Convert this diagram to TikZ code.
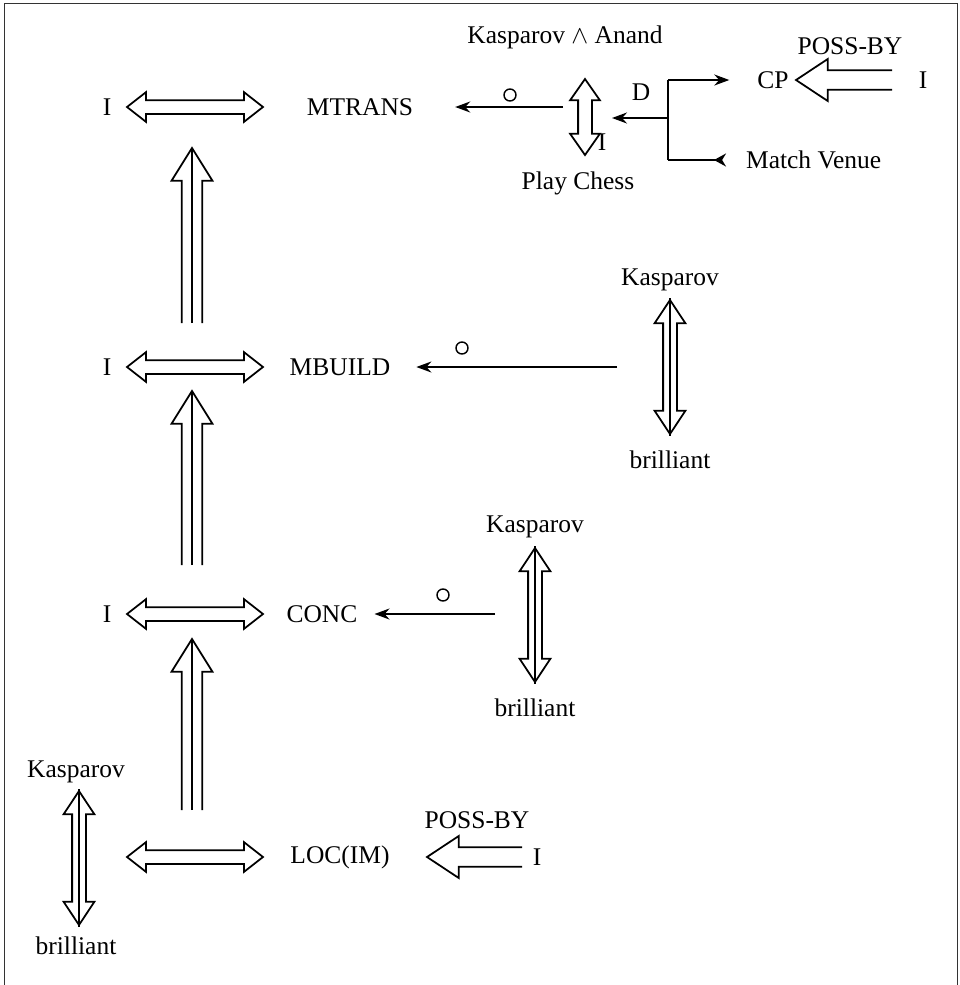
\documentclass[tikz,border=0pt]{standalone}
\usepackage{fontspec}
\setmainfont{Liberation Serif}
\usetikzlibrary{arrows.meta,shapes.arrows,calc}
\tikzset{
  lbl/.style={font=\fontsize{14.5}{17}\selectfont, inner sep=1pt},
  wide/.style={double arrow, draw, line width=1pt, inner sep=1.2mm,
    double arrow head extend=1.6mm, double arrow tip angle=76, minimum height=27.2mm},
  tall/.style={double arrow, draw, line width=1pt, inner sep=1.2mm,
    double arrow head extend=1.7mm, double arrow tip angle=67, shape border rotate=90,
    minimum height=26.8mm},
  lift/.style={single arrow, inner sep=1.9mm, single arrow head extend=2mm,
    single arrow tip angle=64, shape border rotate=90, anchor=tail},
  poss/.style={single arrow, inner sep=1.8mm, single arrow head extend=2.2mm,
    single arrow tip angle=67, shape border rotate=180, anchor=tail, minimum height=19mm},
  thin/.style={-{Stealth[length=3mm,width=2.2mm]}, line width=1pt},
  dot/.style={circle, draw, line width=0.8pt, inner sep=0pt, minimum size=2.4mm}
}
\newcommand\opentail[1]{%
  \draw[line width=1pt] (#1.after tail) -- (#1.before head) -- (#1.before tip) -- (#1.tip)
    -- (#1.after tip) -- (#1.after head) -- (#1.before tail);}

\begin{document}
\begin{tikzpicture}[x=0.2mm,y=-0.2mm]
\useasboundingbox (0,0) rectangle (960,985);
\draw[line width=1.1pt, draw=black!80] (4.5,985) -- (4.5,3.5) -- (957.5,3.5) -- (957.5,985);

% MTRANS row
\node[lbl] (i1) at (107,107) {I};
\node[lbl] (mtrans) at (360,107) {MTRANS};
\node[wide] (w1) at (195,107) {};
\node[lbl] (ka) at (565,37) {Kasparov $\wedge$ Anand};
\node[tall, minimum height=15.2mm, double arrow head extend=1.6mm, double arrow tip angle=70] (pc) at (585,117) {};
\node[lbl] (chess) at (578,183) {Play Chess};
\node[lbl] (ip) at (602,142) {I};
\node[lbl] (d) at (641,92) {D};
\node[dot] (o1) at (510,95) {};
\coordinate (pcout) at (563,107);
\draw[thin, shorten >=8mm] (pcout) -- (mtrans.east);

% D branches
\node[lbl] (cp) at (773,80) {CP};
\node[lbl] (poss1) at (850,46) {POSS-BY};
\node[lbl] (i5) at (923,80) {I};
\node[poss] (pa1) at (892,80) {};
\opentail{pa1}
\node[lbl, anchor=west] (venue) at (744,160) {Match Venue};
\coordinate (fork) at (668,118);
\coordinate (pcin) at (612,118);
\draw[line width=1pt] (fork |- cp) -- (fork |- venue);
\draw[thin] (fork) -- (pcin);
\draw[thin] (fork |- cp) -- ($(cp.west)+(-26,0)$);
\draw[line width=1pt, -{Stealth[reversed,length=2.4mm,width=2.6mm]}] (fork |- venue) -- ($(venue.west)+(-18,0)$);

% MBUILD row
\node[lbl] (i2) at (107,367) {I};
\node[lbl] (mbuild) at (340,367) {MBUILD};
\node[wide] (w2) at (195,367) {};
\node[lbl] (k2) at (670,280) {Kasparov};
\node[tall] (v2) at (670,367) {};
\draw[line width=1pt] (v2.tip 1) -- (v2.tip 2);
\node[lbl] (b2) at (670,460) {brilliant};
\node[dot] (o2) at (462,348) {};
\coordinate (s2) at (617,367);
\draw[thin, shorten >=4.8mm] (s2) -- (mbuild.east);

% CONC row
\node[lbl] (i3) at (107,614) {I};
\node[lbl] (conc) at (322,614) {CONC};
\node[wide] (w3) at (195,614) {};
\node[lbl] (k3) at (535,527) {Kasparov};
\node[tall] (v3) at (535,615) {};
\draw[line width=1pt] (v3.tip 1) -- (v3.tip 2);
\node[lbl] (b3) at (535,708) {brilliant};
\node[dot] (o3) at (443,595) {};
\coordinate (s3) at (495,614);
\draw[thin, shorten >=3mm] (s3) -- (conc.east);

% LOC(IM) row
\node[lbl] (loc) at (340,857) {LOC(IM)};
\node[wide] (w4) at (195,857) {};
\node[lbl] (k4) at (76,772) {Kasparov};
\node[tall] (v4) at (79,858) {};
\draw[line width=1pt] (v4.tip 1) -- (v4.tip 2);
\node[lbl] (b4) at (76,946) {brilliant};
\node[lbl] (poss2) at (477,820) {POSS-BY};
\node[lbl] (i4) at (537,857) {I};
\node[poss, minimum height=18.8mm] (pa2) at (522,857) {};
\opentail{pa2}

% upward links
\node[lift, minimum height=34.8mm] (up1) at (192,323) {};
\opentail{up1}
\draw[line width=1pt] (up1.tail) -- (up1.tip);
\node[lift, minimum height=34.6mm] (up2) at (192,565) {};
\opentail{up2}
\draw[line width=1pt] (up2.tail) -- (up2.tip);
\node[lift, minimum height=34mm] (up3) at (192,810) {};
\opentail{up3}
\draw[line width=1pt] (up3.tail) -- (up3.tip);
\end{tikzpicture}
\end{document}
